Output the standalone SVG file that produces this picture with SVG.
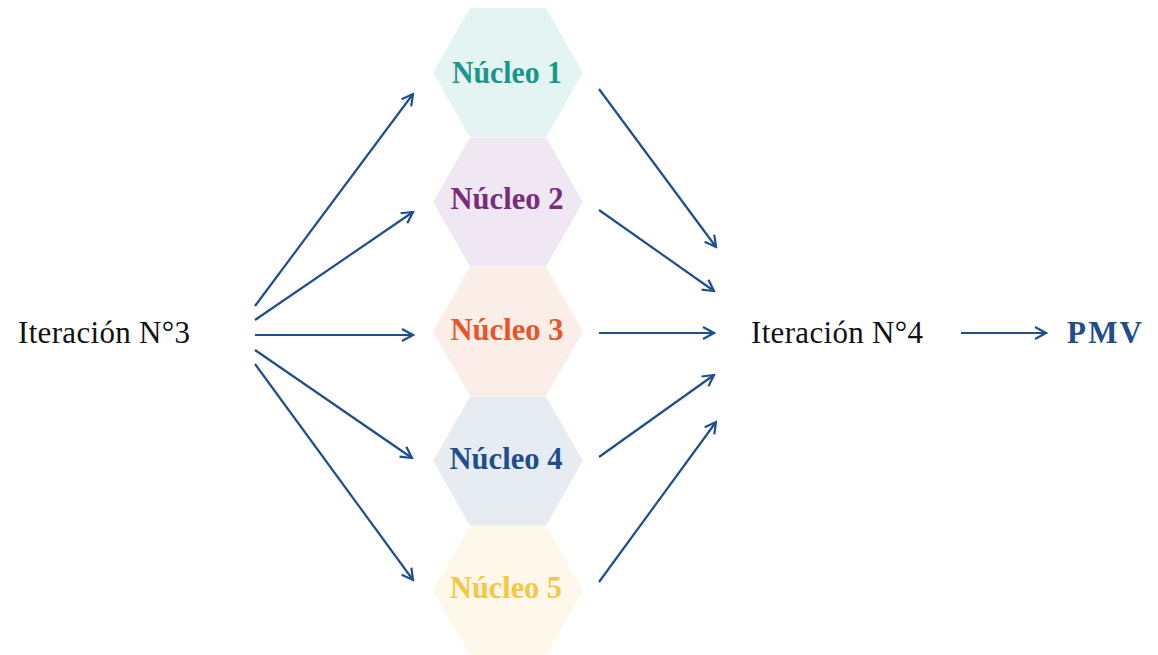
<svg xmlns="http://www.w3.org/2000/svg" width="1158" height="655" viewBox="0 0 1158 655">
<style>
.lbl{font-family:"Liberation Serif","DejaVu Serif",serif;font-weight:bold;font-size:31px;text-anchor:middle}
.it{font-family:"Liberation Serif","DejaVu Serif",serif;font-size:31px;fill:#111}
.c{fill:none;stroke:#1f4e8c;stroke-width:2.2;marker-end:url(#ah)}
</style>
<defs>
<marker id="ah" viewBox="0 0 14 14" refX="12" refY="7" markerWidth="14" markerHeight="14" markerUnits="userSpaceOnUse" orient="auto">
<path d="M1,1 L12,7 L1,13" fill="none" stroke="#1f4e8c" stroke-width="2.2"/>
</marker>
<polygon id="hex" points="-75,0 -38,-64.5 38,-64.5 75,0 38,64.5 -38,64.5"/>
</defs>
<rect width="1158" height="655" fill="#fff"/>
<g id="n1"><use href="#hex" x="508" y="72.5" fill="#e4f4f3"/><text class="lbl" x="507" y="83" fill="#1a968a" textLength="110" lengthAdjust="spacingAndGlyphs">Núcleo 1</text></g>
<g id="n2"><use href="#hex" x="508" y="202" fill="#efe8f2"/><text class="lbl" x="507" y="209" fill="#7a2b7d" textLength="113" lengthAdjust="spacingAndGlyphs">Núcleo 2</text></g>
<g id="n3"><use href="#hex" x="508" y="331.5" fill="#fbede8"/><text class="lbl" x="507" y="340" fill="#e8552b" textLength="113" lengthAdjust="spacingAndGlyphs">Núcleo 3</text></g>
<g id="n4"><use href="#hex" x="508" y="461" fill="#e7ecf3"/><text class="lbl" x="506" y="469" fill="#1f4e8c" textLength="113" lengthAdjust="spacingAndGlyphs">Núcleo 4</text></g>
<g id="n5"><use href="#hex" x="508" y="590.5" fill="#fef8ea"/><text class="lbl" x="506" y="598" fill="#f6c744" textLength="112" lengthAdjust="spacingAndGlyphs">Núcleo 5</text></g>
<g id="it3"><text class="it" x="18" y="343" textLength="172">Iteración N°3</text></g>
<g id="it4"><text class="it" x="751" y="343" textLength="172">Iteración N°4</text></g>
<g id="pmv"><text x="1067" y="343" font-family="'Liberation Serif','DejaVu Serif',serif" font-weight="bold" font-size="31" fill="#1f4e8c" textLength="75">PMV</text></g>
<g id="connectors">
<line class="c" x1="255" y1="306" x2="413" y2="94"/>
<line class="c" x1="255" y1="320" x2="413" y2="212"/>
<line class="c" x1="255" y1="335" x2="413" y2="335"/>
<line class="c" x1="255" y1="350" x2="412" y2="458"/>
<line class="c" x1="255" y1="364" x2="413" y2="580"/>
<line class="c" x1="599" y1="89" x2="716" y2="247"/>
<line class="c" x1="599" y1="210" x2="714" y2="291"/>
<line class="c" x1="599" y1="333" x2="714" y2="333"/>
<line class="c" x1="599" y1="457" x2="714" y2="375"/>
<line class="c" x1="599" y1="582" x2="716" y2="422"/>
<line class="c" x1="961" y1="333" x2="1046" y2="333"/>
</g>
</svg>
